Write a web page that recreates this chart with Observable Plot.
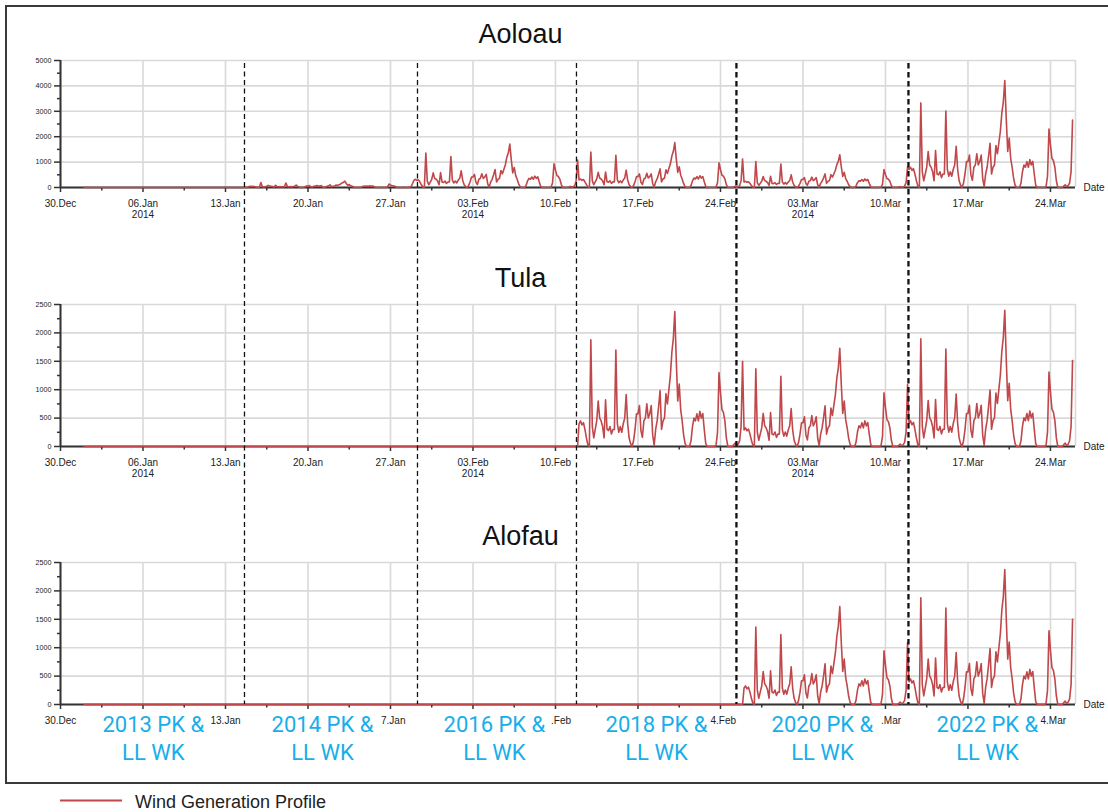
<!DOCTYPE html>
<html>
<head>
<meta charset="utf-8">
<script src="https://cdn.jsdelivr.net/npm/d3@7"></script>
<script src="https://cdn.jsdelivr.net/npm/@observablehq/plot@0.6"></script>
<style>
  html, body { margin: 0; padding: 0; background: #fff; overflow: hidden; }
  #wrap { position: relative; width: 1108px; height: 812px; overflow: hidden; font-family: "Liberation Sans", Arial, sans-serif; }
  #frame { position: absolute; left: 5px; top: 5px; width: 1200px; height: 779px; box-sizing: border-box; border: 2px solid #3a3a3a; }
  #wrap svg { position: absolute; left: 0; }
</style>
</head>
<body>
<div id="wrap"><div id="frame"></div></div>
<script>
// ---------------- DATA ----------------
// One two-week wind generation profile (MW, 3-hourly), read from the Tula 2018 window (12-26 Feb).
const profile = [
  400, 450, 380, 420, 300, 150, 30, 0,
  1880, 350, 150, 300, 450, 800, 500, 450,
  350, 150, 820, 300, 280, 350, 220, 300,
  300, 1700, 400, 250, 350, 250, 400, 500,
  916, 400, 150, 50, 0, 100, 300, 575,
  575, 720, 280, 160, 450, 500, 750, 500,
  575, 720, 200, 20, 300, 450, 700, 985,
  300, 450, 500, 930, 750, 1000, 1250, 1660,
  1900, 2377, 1515, 800, 1100, 650, 450, 200,
  50, 0, 0, 0, 100, 350, 500, 450,
  575, 450, 620, 500, 580, 300, 50, 0,
  0, 0, 0, 0, 0, 20, 250, 1300,
  950, 650, 600, 450, 150, 0, 0, 0,
  0, 30, 60, 20, 40, 100, 350, 1500
];
// Start of each scenario window (2013, 2014, 2016, 2018, 2020, 2022)
const scenarioStarts = ["2014-01-01", "2014-01-15", "2014-01-29", "2014-02-12", "2014-02-26", "2014-03-12"];
// Peak generation of each window per site (MW)
const aoloauPeaks = [0, 250, 1710, 1770, 1290, 4210];
const tulaPeaks   = [0, 0, 0, 2377, 1730, 2400];
const alofauPeaks = [0, 0, 0, 0, 1725, 2376];

const siteNames = ["Aoloau", "Tula", "Alofau"];
const blockLabels = ["2013 PK &\nLL WK", "2014 PK &\nLL WK", "2016 PK &\nLL WK", "2018 PK &\nLL WK", "2020 PK &\nLL WK", "2022 PK &\nLL WK"];
const blockLabelDates = ["2014-01-06T21:00", "2014-01-21T05:30", "2014-02-04T19:40", "2014-02-18T13:40", "2014-03-04T15:40", "2014-03-18T15:40"];
const dividerDates = ["2014-01-14T14:40", "2014-01-29T07:00", "2014-02-11T18:45", "2014-02-25T08:30", "2014-03-11T22:50"];

const majorTickDates = ["2013-12-30", "2014-01-06", "2014-01-13", "2014-01-20", "2014-01-27", "2014-02-03", "2014-02-10",
  "2014-02-17", "2014-02-24", "2014-03-03", "2014-03-10", "2014-03-17", "2014-03-24"];
const majorTickLabels = ["30.Dec", "06.Jan\n2014", "13.Jan", "20.Jan", "27.Jan", "03.Feb\n2014", "10.Feb",
  "17.Feb", "24.Feb", "03.Mar\n2014", "10.Mar", "17.Mar", "24.Mar"];
// what remains visible of the bottom panel's tick labels next to the scenario labels
const bottomVisibleLabels = ["30.Dec", "", "13.Jan", "", "7.Jan", "", ".Feb", "", "4.Feb", "", ".Mar", "", "4.Mar"];
const minorTickDates = ["2014-01-02T12:00", "2014-01-09T12:00", "2014-01-16T12:00", "2014-01-23T12:00", "2014-01-30T12:00",
  "2014-02-06T12:00", "2014-02-13T12:00", "2014-02-20T12:00", "2014-02-27T12:00", "2014-03-06T12:00",
  "2014-03-13T12:00", "2014-03-20T12:00"];
const xDomainDates = ["2013-12-30", "2014-03-26T03:00"];

const yTicksBig = [0, 1000, 2000, 3000, 4000, 5000];
const yMinorBig = [500, 1500, 2500, 3500, 4500];
const yTicksSmall = [0, 500, 1000, 1500, 2000, 2500];
const yMinorSmall = [250, 750, 1250, 1750, 2250];

// ---------------- HELPERS ----------------
const parse = s => new Date(s + (s.length === 10 ? "T00:00:00Z" : ":00Z"));
const xDomain = xDomainDates.map(parse);
const majorTicks = majorTickDates.map(parse);
const minorTicks = minorTickDates.map(parse);
const dividers = dividerDates.map(parse);
const labelMap = new Map(majorTicks.map((d, i) => [+d, majorTickLabels[i]]));
const RED = "#c0474a";
const BLUE = "#17aee9";
const FONT = "'Liberation Sans', Arial, sans-serif";

const ctx = document.createElement("canvas").getContext("2d");
ctx.font = "10px 'Liberation Sans'";
const halfWidth = s => ctx.measureText(s.split("\n")[0]).width / 2;

function buildSeries(peaks) {
  const pmax = d3.max(profile);
  const out = [];
  scenarioStarts.forEach((s, k) => {
    const t0 = +parse(s);
    profile.forEach((v, i) => out.push({date: new Date(t0 + i * 3 * 3600e3), value: v * peaks[k] / pmax}));
  });
  return out;
}

const labelData = blockLabels.map((label, i) => ({label, date: parse(blockLabelDates[i])}));

function panel({title, peaks, yMax, yTicks, yMinor, top, height, mt, mb, bottom}) {
  const series = buildSeries(peaks);
  const xLabelStyle = {fontSize: 10, lineHeight: 1.11, fill: "#222"};
  const marks = [
    Plot.gridY({ticks: yTicks, stroke: "#d9d9d9", strokeOpacity: 1, strokeWidth: 1.6}),
    Plot.gridX({ticks: majorTicks, stroke: "#d9d9d9", strokeOpacity: 1, strokeWidth: 1.6}),
    Plot.ruleX([xDomain[1]], {stroke: "#d9d9d9", strokeWidth: 1.6}),
    Plot.axisY({ticks: yTicks, tickSize: 6, tickPadding: 3, fontSize: 7.2, tickFormat: d3.format("d"),
      stroke: "#333", strokeWidth: 1.5, fill: "#222", label: null}),
    Plot.axisY({ticks: yMinor, tickSize: 3, tickFormat: () => "", stroke: "#333", strokeWidth: 1.5, label: null}),
    Plot.axisX({ticks: majorTicks, tickSize: 5, tickPadding: 6.6, ...xLabelStyle,
      tickFormat: bottom ? () => "" : d => labelMap.get(+d), stroke: "#333", strokeWidth: 1.5, label: null}),
    Plot.axisX({ticks: minorTicks, tickSize: 3.5, tickFormat: () => "", stroke: "#333", strokeWidth: 1.5, label: null}),
    Plot.ruleX([xDomain[0]], {stroke: "#333", strokeWidth: 2}),
    Plot.ruleY([0], {stroke: "#333", strokeWidth: 2}),
    Plot.lineY(series, {x: "date", y: "value", stroke: RED, strokeWidth: 1.6}),
    Plot.text([title], {text: d => d, frameAnchor: "top-left", dx: 460, dy: -17.3, textAnchor: "middle",
      lineAnchor: "bottom", fontSize: 27, fill: "#111"}),
    Plot.text(["Date"], {text: d => d, frameAnchor: "bottom-right", dx: 8, textAnchor: "start",
      lineAnchor: "middle", fontSize: 10, fill: "#222"})
  ];
  if (bottom) {
    // remaining visible tick labels, right-aligned where the full label would end
    bottomVisibleLabels.forEach((txt, i) => {
      if (!txt) return;
      marks.push(Plot.text([{date: majorTicks[i], txt}], {x: "date", text: "txt", frameAnchor: "bottom",
        lineAnchor: "top", textAnchor: "end", dx: halfWidth(majorTickLabels[i]), dy: 11.6, ...xLabelStyle}));
    });
    marks.push(Plot.text(labelData, {x: "date", text: "label", frameAnchor: "bottom", lineAnchor: "top",
      dy: 7.8, lineHeight: 28 / 22, fontSize: 22, fontFamily: "Roboto, 'Noto Sans', sans-serif", fill: BLUE}));
  }
  const svg = Plot.plot({
    width: 1108, height,
    marginLeft: 60, marginRight: 33, marginTop: mt, marginBottom: mb,
    style: {background: "transparent", fontFamily: FONT, overflow: "visible"},
    x: {type: "utc", domain: xDomain},
    y: {domain: [0, yMax]},
    marks
  });
  svg.style.top = top + "px";
  return svg;
}

const wrap = document.getElementById("wrap");
wrap.appendChild(panel({title: siteNames[0], peaks: aoloauPeaks, yMax: 5000, yTicks: yTicksBig, yMinor: yMinorBig,
  top: 0, height: 240, mt: 60, mb: 53}));
wrap.appendChild(panel({title: siteNames[1], peaks: tulaPeaks, yMax: 2500, yTicks: yTicksSmall, yMinor: yMinorSmall,
  top: 245, height: 250, mt: 59, mb: 49}));
wrap.appendChild(panel({title: siteNames[2], peaks: alofauPeaks, yMax: 2500, yTicks: yTicksSmall, yMinor: yMinorSmall,
  top: 505, height: 270, mt: 57, mb: 71, bottom: true}));

// dashed scenario dividers spanning all three panels
const overlay = Plot.plot({
  width: 1108, height: 812, marginLeft: 60, marginRight: 33, marginTop: 63, marginBottom: 108,
  style: {background: "transparent"},
  x: {type: "utc", domain: xDomain, axis: null},
  marks: [
    Plot.ruleX(dividers.slice(0, 3), {stroke: "#111", strokeWidth: 1.3, strokeDasharray: "5,3.5"}),
    Plot.ruleX(dividers.slice(3), {stroke: "#111", strokeWidth: 2.3, strokeDasharray: "5.5,3.5"})
  ]
});
overlay.style.top = "0px";
overlay.style.pointerEvents = "none";
wrap.appendChild(overlay);

// legend
const ns = "http://www.w3.org/2000/svg";
const leg = document.createElementNS(ns, "svg");
leg.setAttribute("width", 1108); leg.setAttribute("height", 27);
leg.style.top = "785px";
const ln = document.createElementNS(ns, "line");
ln.setAttribute("x1", 60); ln.setAttribute("x2", 122); ln.setAttribute("y1", 15.5); ln.setAttribute("y2", 15.5);
ln.setAttribute("stroke", RED); ln.setAttribute("stroke-width", 2);
leg.appendChild(ln);
const tx = document.createElementNS(ns, "text");
tx.setAttribute("x", 135); tx.setAttribute("y", 22.5);
tx.setAttribute("font-size", 18); tx.setAttribute("fill", "#222");
tx.setAttribute("font-family", FONT);
tx.textContent = "Wind Generation Profile";
leg.appendChild(tx);
wrap.appendChild(leg);
</script>
</body>
</html>
